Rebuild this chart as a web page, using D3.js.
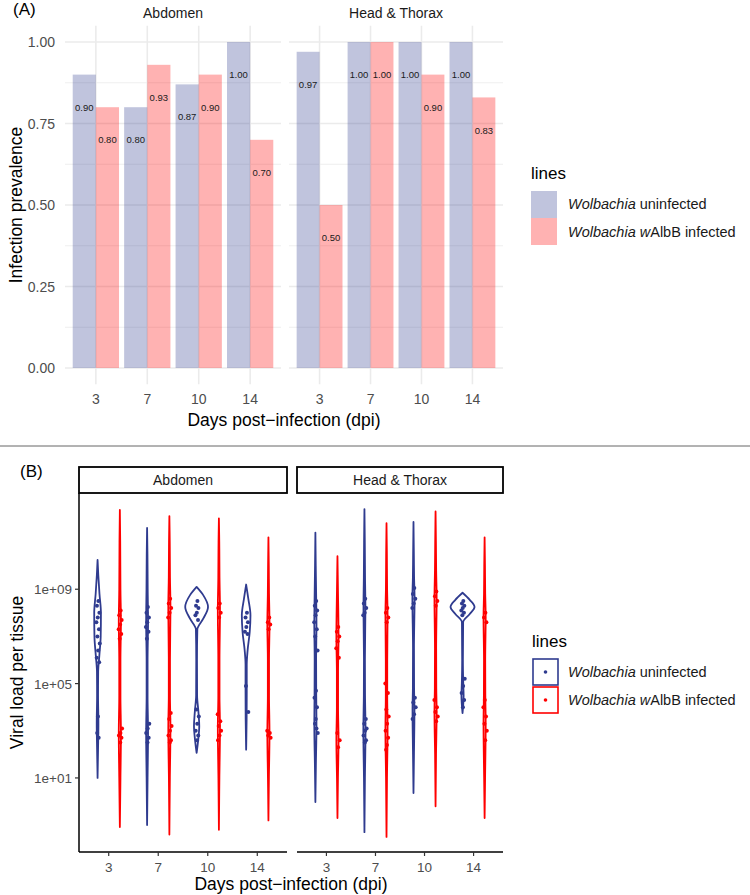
<!DOCTYPE html>
<html><head><meta charset="utf-8">
<script src="https://cdn.jsdelivr.net/npm/d3@7"></script>
<style>
body{margin:0;background:#fff;}
svg{font-family:"Liberation Sans",Arial,Helvetica,sans-serif;}
</style></head><body>
<svg id="c" width="750" height="895"></svg>
<script>
// ---------- DATA ----------
const days = [3, 7, 10, 14];
const tissues = ["Abdomen", "Head & Thorax"];
const lineKeys = ["uninf", "walbb"];
const lineLabels = [["Wolbachia", " uninfected"], ["Wolbachia", " w", "AlbB infected"]];
// Panel A: infection prevalence
const prevAbdUninf = [0.90, 0.80, 0.87, 1.00];
const prevAbdWalbb = [0.80, 0.93, 0.90, 0.70];
const prevHTUninf  = [0.97, 1.00, 1.00, 1.00];
const prevHTWalbb  = [0.50, 1.00, 0.90, 0.83];
const prevTicks = [0, 0.25, 0.5, 0.75, 1.0];
const prevMinor = [0.125, 0.375, 0.625, 0.875];
// Panel B: violin profiles, [log10 viral load, relative density]
const violAbdUninf = [
 [[10.24,0],[9.6,0.06],[8.8,0.16],[8.0,0.28],[7.0,0.26],[6.2,0.15],[5.5,0.05],[4.5,0.04],[3.3,0.07],[2.2,0.04],[1.0,0]],
 [[11.6,0],[10.5,0.03],[9,0.05],[7.6,0.08],[6,0.04],[4.5,0.04],[2.9,0.08],[1,0.04],[-1.0,0]],
 [[9.1,0],[8.75,0.55],[8.25,0.95],[7.75,0.55],[7.3,0.06],[6,0.03],[4.5,0.04],[3.8,0.15],[3.2,0.22],[2.6,0.13],[2.06,0]],
 [[9.2,0],[8.6,0.18],[7.9,0.36],[7.2,0.3],[6.4,0.12],[5.8,0.05],[4.8,0.05],[3.5,0.04],[2.2,0]]
];
const violAbdWalbb = [
 [[12.36,0],[11,0.03],[9,0.05],[7.6,0.09],[6,0.05],[4.5,0.05],[2.9,0.09],[1,0.05],[-1.08,0]],
 [[12.1,0],[11,0.03],[9.5,0.05],[8.2,0.09],[6,0.05],[4.5,0.05],[3.1,0.09],[1,0.04],[-1.4,0]],
 [[12.0,0],[11,0.03],[9.5,0.05],[8.1,0.09],[6,0.05],[4.5,0.05],[3.1,0.09],[1,0.04],[-1.2,0]],
 [[11.2,0],[10,0.03],[8.8,0.05],[7.5,0.09],[6,0.05],[4.5,0.05],[2.9,0.09],[1,0.04],[-0.8,0]]
];
const violHTUninf = [
 [[11.4,0],[10,0.03],[8.5,0.07],[7.5,0.09],[6,0.06],[4.5,0.07],[3.3,0.09],[1.5,0.04],[-0.02,0]],
 [[12.4,0],[11,0.03],[9.5,0.05],[8.2,0.08],[6,0.04],[4.5,0.05],[3.0,0.09],[1,0.04],[-1.3,0]],
 [[11.85,0],[10.5,0.03],[9.5,0.05],[8.6,0.09],[6.5,0.04],[4.8,0.05],[3.9,0.08],[2,0.04],[0.36,0]],
 [[8.85,0],[8.55,0.6],[8.25,1.0],[7.95,0.6],[7.6,0.05],[6,0.03],[5,0.06],[4.5,0.09],[3.75,0]]
];
const violHTWalbb = [
 [[10.4,0],[9,0.04],[7,0.09],[5.5,0.05],[4,0.05],[2.6,0.09],[1,0.04],[-0.7,0]],
 [[11.8,0],[10.5,0.03],[9,0.05],[7.9,0.09],[6,0.06],[4.5,0.06],[3.0,0.09],[1,0.04],[-1.5,0]],
 [[12.3,0],[11,0.03],[9.8,0.05],[8.6,0.09],[6.5,0.05],[4.8,0.06],[3.8,0.09],[2,0.04],[-0.2,0]],
 [[11.2,0],[10,0.03],[8.8,0.05],[7.8,0.09],[6,0.05],[4.5,0.06],[3.3,0.09],[1,0.04],[-0.7,0]]
];
// Panel B: observed points, log10 viral load
const ptsAbdUninf = [
 [8.5,8.3,8.0,7.8,7.6,7.3,7.0,6.7,6.4,6.1,5.9,3.6,2.9,2.7],
 [8.25,8.0,7.8,7.6,7.4,7.2,6.9,3.3,3.1,2.9,2.7,2.5],
 [8.5,8.3,8.2,8.0,7.9,7.7,3.9,3.6,3.3,3.0,2.8,2.6],
 [8.0,7.8,7.6,7.4,7.2,7.1,4.9,3.8]
];
const ptsAbdWalbb = [
 [8.1,7.9,7.7,7.5,7.3,7.1,6.9,3.1,2.9,2.8,2.7,2.5],
 [8.6,8.4,8.2,8.0,7.8,3.75,3.5,3.2,3.0,2.8,2.6,2.5],
 [8.4,8.2,8.0,7.8,3.7,3.4,3.2,3.0,2.8,2.6],
 [7.8,7.6,7.5,7.3,3.0,2.9,2.8,2.7]
];
const ptsHTUninf = [
 [8.5,8.3,8.1,7.9,7.6,7.3,7.0,6.4,4.7,4.4,4.0,3.5,3.3,3.1,2.9],
 [8.6,8.4,8.2,8.0,7.9,3.5,3.3,3.1,3.0,2.8,2.6,2.5],
 [9.05,8.8,8.6,8.4,8.2,4.4,4.2,4.0,3.7,3.5],
 [8.5,8.4,8.3,8.2,8.1,8.0,7.9,5.2,4.9,4.6,4.3,4.0]
];
const ptsHTWalbb = [
 [7.4,7.2,7.0,6.8,6.5,6.1,2.9,2.6,2.3],
 [8.2,8.0,7.8,7.6,5.0,4.6,3.9,3.6,3.3,3.0,2.7,2.4,2.2],
 [8.9,8.7,8.5,8.3,4.3,4.0,3.8,3.6,3.4],
 [8.0,7.8,7.6,4.3,4.0,3.6,3.3,3.0,2.6]
];
const loadTicks = [1, 5, 9]; // log10 exponents -> 1e+01, 1e+05, 1e+09

// ---------- STYLE ----------
const colBlue = "#2f3b8f", colRed = "#ff0000";
const colors = {uninf: colBlue, walbb: colRed};
const svg = d3.select("#c");
const gridCol = "#ebebeb", tickTxt = "#4d4d4d";

// ================= PANEL A =================
const prevData = [
  {tissue: tissues[0], uninf: prevAbdUninf, walbb: prevAbdWalbb, range: [65, 281]},
  {tissue: tissues[1], uninf: prevHTUninf, walbb: prevHTWalbb, range: [289, 503]}
];
const yA = d3.scaleLinear().domain([0, 1]).range([368, 42]);
const yATop = yA(1.05), yABot = yA(-0.05);

svg.append("text").attr("x", 13).attr("y", 15).attr("font-size", 17).text("(A)");

prevData.forEach(p => {
  const x = d3.scalePoint().domain(days).range(p.range).padding(0.6);
  const bw = x.step() * 0.45;
  const g = svg.append("g");
  g.selectAll(".mn").data(prevMinor).join("line")
    .attr("x1", p.range[0]).attr("x2", p.range[1])
    .attr("y1", d => yA(d)).attr("y2", d => yA(d))
    .attr("stroke", gridCol).attr("stroke-width", 0.8);
  g.selectAll(".mj").data(prevTicks).join("line")
    .attr("x1", p.range[0]).attr("x2", p.range[1])
    .attr("y1", d => yA(d)).attr("y2", d => yA(d))
    .attr("stroke", gridCol).attr("stroke-width", 1.6);
  g.selectAll(".vx").data(days).join("line")
    .attr("x1", d => x(d)).attr("x2", d => x(d))
    .attr("y1", yATop).attr("y2", yABot)
    .attr("stroke", gridCol).attr("stroke-width", 1.6);
  lineKeys.forEach((k, ki) => {
    g.selectAll(".b" + k).data(days).join("rect")
      .attr("x", (d) => x(d) - bw + ki * bw)
      .attr("width", bw)
      .attr("y", (d, i) => yA(p[k][i]))
      .attr("height", (d, i) => yA(0) - yA(p[k][i]))
      .attr("fill", colors[k]).attr("fill-opacity", 0.3);
    g.selectAll(".t" + k).data(days).join("text")
      .attr("x", d => x(d) - bw / 2 + ki * bw)
      .attr("y", (d, i) => yA(p[k][i] - 0.1) + 3.5)
      .attr("text-anchor", "middle").attr("font-size", 9.5).attr("fill", "#1a1a1a")
      .text((d, i) => p[k][i].toFixed(2));
  });
  g.selectAll(".xl").data(days).join("text")
    .attr("x", d => x(d)).attr("y", 404)
    .attr("text-anchor", "middle").attr("font-size", 14).attr("fill", tickTxt)
    .text(d => d);
  g.append("text").attr("x", (p.range[0] + p.range[1]) / 2).attr("y", 18)
    .attr("text-anchor", "middle").attr("font-size", 14).attr("fill", "#1a1a1a").text(p.tissue);
});
svg.selectAll(".yla").data(prevTicks).join("text")
  .attr("x", 55).attr("y", d => yA(d) + 5)
  .attr("text-anchor", "end").attr("font-size", 14).attr("fill", tickTxt)
  .text(d => d.toFixed(2));
svg.append("text").attr("transform", `translate(22,${(yATop + yABot) / 2}) rotate(-90)`)
  .attr("text-anchor", "middle").attr("font-size", 17.5).text("Infection prevalence");
svg.append("text").attr("x", 284).attr("y", 426)
  .attr("text-anchor", "middle").attr("font-size", 17.5).text("Days post\u2212infection (dpi)");

function legendText(sel, i) {
  sel.append("tspan").attr("font-style", "italic").text(lineLabels[i][0]);
  if (lineLabels[i].length > 2) {
    sel.append("tspan").text(" ");
    sel.append("tspan").attr("font-style", "italic").text("w");
    sel.append("tspan").text(lineLabels[i][2]);
  } else {
    sel.append("tspan").text(lineLabels[i][1]);
  }
}
const legA = svg.append("g");
legA.append("text").attr("x", 531).attr("y", 179).attr("font-size", 17).text("lines");
lineKeys.forEach((k, i) => {
  legA.append("rect").attr("x", 531).attr("y", 191 + i * 27).attr("width", 26).attr("height", 27)
    .attr("fill", colors[k]).attr("fill-opacity", 0.3);
  const t = legA.append("text").attr("x", 568).attr("y", 209 + i * 28).attr("font-size", 14.5).attr("fill", "#1a1a1a");
  legendText(t, i);
});

svg.append("line").attr("x1", 0).attr("x2", 750).attr("y1", 446).attr("y2", 446)
  .attr("stroke", "#666").attr("stroke-width", 1);

// ================= PANEL B =================
svg.append("text").attr("x", 20).attr("y", 477).attr("font-size", 17).text("(B)");
const yB = d3.scaleLog().domain([Math.pow(10, -2.14), Math.pow(10, 13.08)]).range([852, 493]);
const wScale = d3.scaleLinear().domain([0, 1]).range([0, 12]);
const loadData = [
  {tissue: tissues[0], range: [79, 287], viol: {uninf: violAbdUninf, walbb: violAbdWalbb}, pts: {uninf: ptsAbdUninf, walbb: ptsAbdWalbb}},
  {tissue: tissues[1], range: [297, 503], viol: {uninf: violHTUninf, walbb: violHTWalbb}, pts: {uninf: ptsHTUninf, walbb: ptsHTWalbb}}
];
const jit = [0.8, -0.6, 1.8, 0.2, -1.2, 1.4, -0.2, 2.2, 0.6, -0.9, 1.6, 0.4, -0.4, 1.1, 2.4];

loadData.forEach((p, pi) => {
  const x = d3.scalePoint().domain(days).range(p.range).padding(0.6);
  const off = x.step() * 0.225;
  const g = svg.append("g");
  g.append("rect").attr("x", p.range[0]).attr("y", 467).attr("width", p.range[1] - p.range[0]).attr("height", 26)
    .attr("fill", "#fff").attr("stroke", "#000").attr("stroke-width", 1.8);
  g.append("text").attr("x", (p.range[0] + p.range[1]) / 2).attr("y", 485)
    .attr("text-anchor", "middle").attr("font-size", 14).attr("fill", "#1a1a1a").text(p.tissue);
  lineKeys.forEach((k, ki) => {
    days.forEach((d, di) => {
      const cx = x(d) + (ki === 0 ? -off : off);
      const area = d3.area()
        .y(v => yB(Math.pow(10, v[0])))
        .x0(v => cx - wScale(v[1]))
        .x1(v => cx + wScale(v[1]))
        .curve(d3.curveMonotoneY);
      g.append("path").attr("d", area(p.viol[k][di]))
        .attr("fill", "#fff").attr("stroke", colors[k]).attr("stroke-width", 1.8)
        .attr("stroke-linejoin", "round");
      g.selectAll(null).data(p.pts[k][di]).join("circle")
        .attr("cx", (v, j) => cx + jit[j % jit.length])
        .attr("cy", v => yB(Math.pow(10, v)))
        .attr("r", 2).attr("fill", colors[k]);
    });
  });
  g.append("line").attr("x1", p.range[0]).attr("x2", p.range[1]).attr("y1", 852).attr("y2", 852)
    .attr("stroke", "#000").attr("stroke-width", 1.5);
  g.selectAll(".xt").data(days).join("line")
    .attr("x1", d => x(d)).attr("x2", d => x(d)).attr("y1", 852).attr("y2", 856)
    .attr("stroke", "#333").attr("stroke-width", 1.2);
  g.selectAll(".xl").data(days).join("text")
    .attr("x", d => x(d)).attr("y", 872)
    .attr("text-anchor", "middle").attr("font-size", 13.5).attr("fill", tickTxt).text(d => d);
});
svg.append("line").attr("x1", 79).attr("x2", 79).attr("y1", 493).attr("y2", 852)
  .attr("stroke", "#000").attr("stroke-width", 1.5);
svg.selectAll(".ytB").data(loadTicks).join("line")
  .attr("x1", 75).attr("x2", 79)
  .attr("y1", d => yB(Math.pow(10, d))).attr("y2", d => yB(Math.pow(10, d)))
  .attr("stroke", "#333").attr("stroke-width", 1.2);
svg.selectAll(".ylB").data(loadTicks).join("text")
  .attr("x", 72).attr("y", d => yB(Math.pow(10, d)) + 5)
  .attr("text-anchor", "end").attr("font-size", 13.5).attr("fill", tickTxt)
  .text(d => "1e+" + String(d).padStart(2, "0"));
svg.append("text").attr("transform", `translate(23,${(493 + 852) / 2}) rotate(-90)`)
  .attr("text-anchor", "middle").attr("font-size", 17.5).text("Viral load per tissue");
svg.append("text").attr("x", 291).attr("y", 890)
  .attr("text-anchor", "middle").attr("font-size", 17.5).text("Days post\u2212infection (dpi)");

const legB = svg.append("g");
legB.append("text").attr("x", 532).attr("y", 647).attr("font-size", 17).text("lines");
lineKeys.forEach((k, i) => {
  legB.append("rect").attr("x", 533).attr("y", 659 + i * 28).attr("width", 25).attr("height", 26)
    .attr("fill", "#fff").attr("stroke", colors[k]).attr("stroke-width", 1.6);
  legB.append("circle").attr("cx", 545.5).attr("cy", 672 + i * 28).attr("r", 1.8).attr("fill", colors[k]);
  const t = legB.append("text").attr("x", 568).attr("y", 677 + i * 28).attr("font-size", 14.5).attr("fill", "#1a1a1a");
  legendText(t, i);
});
</script></body></html>
